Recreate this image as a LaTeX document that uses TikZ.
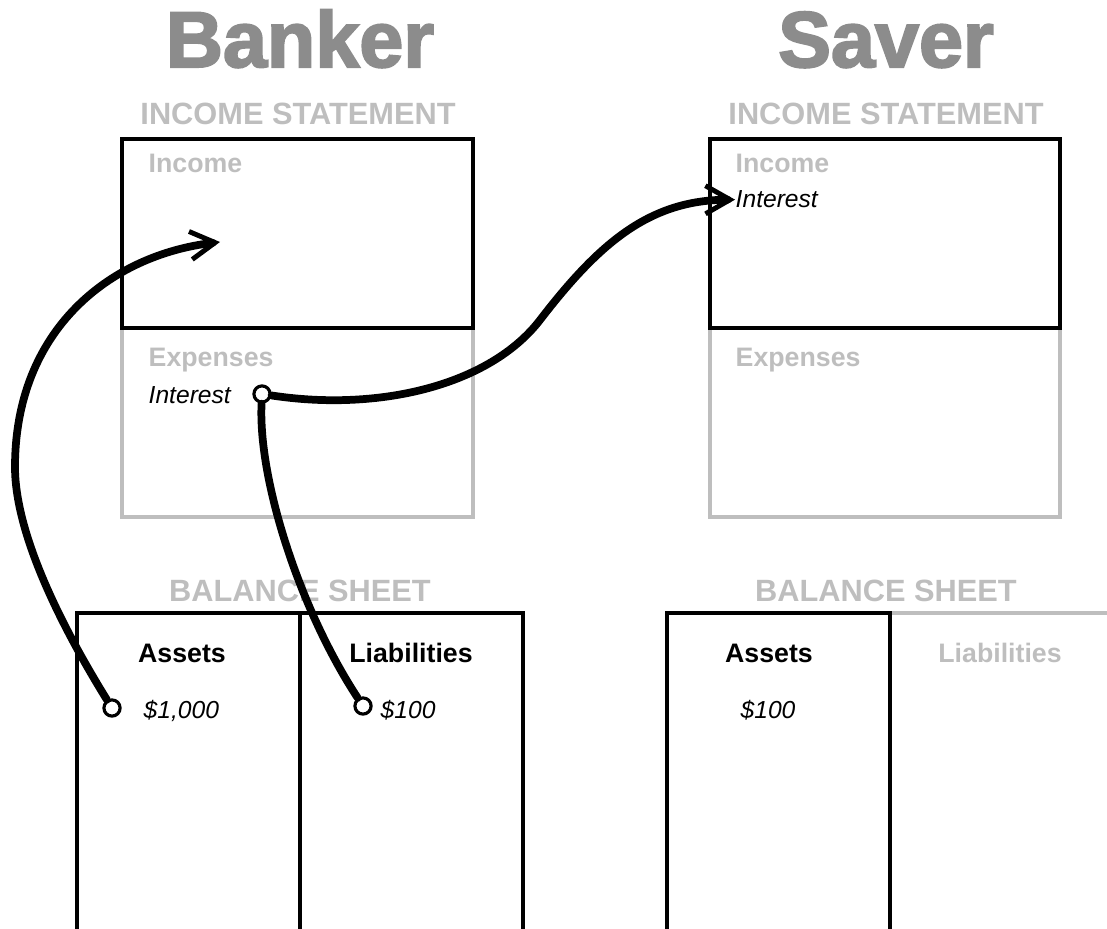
\documentclass[tikz,border=0pt]{standalone}
\usepackage{fontspec}
\setmainfont{Liberation Sans}
\newfontfamily\heavyfont[FakeBold=2.6]{Liberation Sans Bold}
\usetikzlibrary{arrows.meta}
\definecolor{titlegray}{HTML}{8C8C8C}
\definecolor{softgray}{HTML}{BEBEBE}

\begin{document}
\begin{tikzpicture}[x=0.01cm, y=-0.01cm,
  every node/.style={inner sep=0pt},
  title/.style={anchor=base, titlegray, font=\heavyfont\fontsize{22.5}{23}\selectfont},
  head/.style={anchor=base, softgray, font=\bfseries\fontsize{8.75}{9}\selectfont},
  lbl/.style={anchor=base west, softgray, font=\bfseries\fontsize{7.6}{8}\selectfont},
  col/.style={anchor=base, font=\bfseries\fontsize{7.6}{8}\selectfont},
  val/.style={anchor=base west, font=\itshape\fontsize{7}{8}\selectfont},
  blk/.style={draw=black, line width=1.1pt},
  gry/.style={draw=softgray, line width=0.9pt},
  dot/.style={circle, draw, fill=white, line width=0.9pt, minimum size=4.6pt},
  hand/.style={line width=2.2pt, line cap=round},
  tip/.style={-{Straight Barb[length=7pt,width=8pt,line width=1.4pt]}}
]
\clip (0,0) rectangle (1107,928);

% banker
\node[title] (btitle) at (300,67) {Banker};
\node[head] (bis) at (298,125) {INCOME STATEMENT};
\draw[gry] (122,328) rectangle (473,517);
\draw[blk] (122,139) rectangle (473,328);
\node[lbl] (binc) at (148,173) {Income};
\node[lbl] (bexp) at (148,367) {Expenses};
\node[val] (bintl) at (148,404) {Interest};

\node[head] (bbs) at (300,601) {BALANCE SHEET};
\draw[blk] (77,613) rectangle (300,940);
\draw[blk] (300,613) rectangle (523,940);
\node[col] (bass) at (182,662) {Assets};
\node[col] (bliab) at (411,662) {Liabilities};
\node[val] (bassv) at (143,718) {\$1,000};
\node[val] (bliabv) at (380,718) {\$100};

% saver
\node[title] (stitle) at (886,67) {Saver};
\node[head] (sis) at (886,125) {INCOME STATEMENT};
\draw[gry] (710,328) rectangle (1060,517);
\draw[blk] (710,139) rectangle (1060,328);
\node[lbl] (sinc) at (735,173) {Income};
\node[lbl] (sexp) at (735,367) {Expenses};
\node[val] (sint) at (735,208) {Interest};

\node[head] (sbs) at (886,601) {BALANCE SHEET};
\draw[gry] (890,613) rectangle (1113,940);
\draw[blk] (667,613) rectangle (890,940);
\node[col] (sass) at (769,662) {Assets};
\node[col, softgray] (sliab) at (1000,662) {Liabilities};
\node[anchor=base, font=\itshape\fontsize{7}{8}\selectfont] (sassv) at (768,718) {\$100};

% flows
\node[dot] (pint) at (262,394) {};
\node[dot] (pass) at (112,708) {};
\node[dot] (pliab) at (363,706) {};
\coordinate (bincome) at (220,242);

\draw[hand, tip] (pass) .. controls (70,640) and (15,540) .. (15,467)
  .. controls (15,330) and (110,255) .. (bincome);
\draw[hand] (pliab) .. controls (300,610) and (258,480) .. (pint);
\draw[hand, tip] (pint) .. controls (380,412) and (490,385) .. (540,320)
  .. controls (600,242) and (650,200) .. (sint.west);
\end{tikzpicture}
\end{document}
